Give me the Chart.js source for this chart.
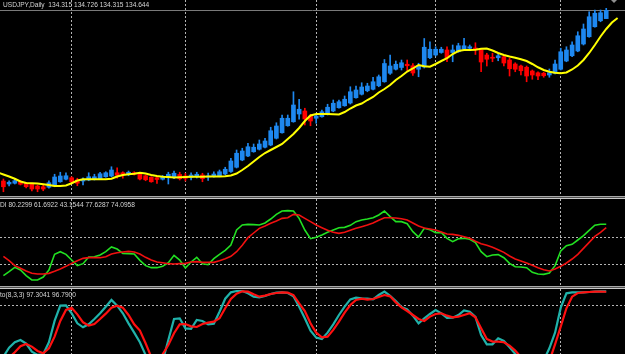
<!DOCTYPE html>
<html lang="en">
<head>
    <meta charset="UTF-8">
    <title>USDJPY Daily</title>
    <script src="https://cdn.jsdelivr.net/npm/chart.js"></script>
    <style>
        body { margin: 0; background: #000; width: 625px; height: 354px; overflow: hidden; position: relative; font-family: "Liberation Sans", Arial, sans-serif; }
        canvas { position: absolute; left: 0; }
        .sep { position: absolute; left: 0; width: 625px; height: 3px; background: linear-gradient(#a8a8a8 0 1px, #505050 1px 2px, #c8c8c8 2px 3px); }
        .lbl { position: absolute; left: 0; color: #d4d4d4; font-size: 6.6px; line-height: 8px; white-space: pre; }
        .shift { position: absolute; left: 611px; top: 0; width: 0; height: 0; border-left: 3px solid transparent; border-right: 3px solid transparent; border-top: 3px solid #909090; }
    </style>
</head>
<body>
    <canvas id="mainChart" width="625" height="196" style="top:0"></canvas>
    <div class="sep" style="top:196px"></div>
    <canvas id="diChart" width="625" height="87" style="top:199px"></canvas>
    <div class="sep" style="top:286px"></div>
    <canvas id="stochChart" width="625" height="65" style="top:289px"></canvas>
    <div class="shift"></div>

    <div class="lbl" style="top:1px;left:3px">USDJPY,Daily  134.315 134.726 134.315 134.644</div>
    <div class="lbl" style="top:201px">DI 80.2299 61.6922 43.1544 77.6287 74.0958</div>
    <div class="lbl" style="top:291px">to(8,3,3) 97.3041 96.7900</div>

    <script>
        // Daily candles, one entry per bar (oldest first)
        const candleOpen = [
            127.82, 127.70, 127.73, 127.79, 127.73, 127.69, 127.62, 127.59, 127.57, 127.62,
            127.79, 127.89, 127.95, 127.86, 127.82, 127.86, 127.90, 127.91, 127.99, 128.02,
            128.15, 128.15, 128.09, 128.15, 128.09, 128.03, 127.97, 127.95, 127.89, 127.95,
            127.95, 128.08, 128.02, 127.97, 127.99, 128.06, 127.98, 127.99, 128.03, 128.10,
            128.20, 128.37, 128.66, 128.82, 128.99, 129.09, 129.17, 129.26, 129.53, 129.75,
            130.03, 130.19, 130.50, 130.62, 130.42, 130.33, 130.39, 130.50, 130.62, 130.75,
            130.83, 130.94, 131.15, 131.29, 131.43, 131.49, 131.63, 131.79, 132.13, 132.29,
            132.36, 132.49, 132.43, 132.29, 132.38, 132.75, 132.86, 132.96, 133.06, 132.96,
            132.99, 133.09, 133.13, 133.14, 133.07, 132.86, 132.77, 132.75, 132.79, 132.66,
            132.50, 132.42, 132.37, 132.22, 132.15, 132.13, 132.06, 132.13, 132.29, 132.62,
            132.83, 133.02, 133.30, 133.59, 133.99, 134.23, 134.315
        ];
        const candleHigh = [
            127.90, 127.83, 127.90, 127.84, 127.77, 127.72, 127.66, 127.66, 127.83, 128.09,
            128.17, 128.15, 127.99, 127.93, 127.95, 128.15, 128.09, 128.17, 128.19, 128.39,
            128.35, 128.19, 128.22, 128.19, 128.13, 128.06, 127.99, 127.99, 128.04, 128.17,
            128.22, 128.17, 128.13, 128.15, 128.17, 128.13, 128.14, 128.19, 128.26, 128.37,
            128.73, 129.06, 129.13, 129.33, 129.30, 129.46, 129.53, 129.97, 130.15, 130.46,
            130.46, 131.39, 131.09, 130.73, 130.49, 130.50, 130.66, 130.89, 131.06, 131.06,
            131.22, 131.59, 131.62, 131.75, 131.73, 131.97, 132.06, 132.68, 132.86, 132.62,
            132.66, 132.66, 132.52, 132.53, 133.52, 133.39, 133.19, 133.17, 133.19, 133.26,
            133.33, 133.53, 133.26, 133.35, 133.11, 132.93, 132.93, 132.90, 132.83, 132.73,
            132.55, 132.46, 132.42, 132.26, 132.19, 132.17, 132.30, 132.66, 133.13, 133.19,
            133.39, 133.79, 134.10, 134.59, 134.66, 134.66, 134.726
        ];
        const candleLow = [
            127.39, 127.62, 127.70, 127.66, 127.54, 127.42, 127.39, 127.43, 127.53, 127.59,
            127.77, 127.86, 127.75, 127.63, 127.66, 127.83, 127.86, 127.89, 127.97, 127.99,
            127.93, 127.93, 128.03, 128.06, 127.86, 127.83, 127.77, 127.72, 127.86, 127.70,
            127.91, 127.86, 127.82, 127.86, 127.94, 127.79, 127.84, 127.97, 127.99, 128.07,
            128.16, 128.34, 128.63, 128.79, 128.97, 129.06, 129.14, 129.23, 129.50, 129.73,
            130.01, 130.17, 130.29, 130.06, 130.03, 130.13, 130.37, 130.46, 130.59, 130.73,
            130.81, 130.90, 131.13, 131.26, 131.39, 131.46, 131.59, 131.77, 132.08, 132.26,
            132.26, 132.24, 132.04, 131.99, 132.34, 132.71, 132.82, 132.93, 132.59, 132.59,
            132.97, 133.06, 133.09, 132.88, 132.19, 132.42, 132.59, 132.63, 132.42, 132.02,
            132.19, 132.06, 131.79, 131.89, 131.87, 131.97, 131.97, 132.10, 132.26, 132.59,
            132.79, 132.99, 133.26, 133.57, 133.97, 134.19, 134.315
        ];
        const candleClose = [
            127.59, 127.77, 127.83, 127.69, 127.59, 127.50, 127.50, 127.50, 127.75, 127.98,
            128.02, 128.03, 127.79, 127.73, 127.89, 127.99, 127.99, 128.11, 128.15, 128.26,
            128.05, 128.09, 128.17, 128.09, 127.90, 127.87, 127.79, 127.88, 127.99, 128.09,
            128.13, 127.91, 127.93, 128.06, 128.09, 127.91, 128.02, 128.10, 128.19, 128.29,
            128.62, 128.93, 129.02, 129.19, 129.17, 129.30, 129.42, 129.83, 130.02, 130.33,
            130.33, 130.86, 130.69, 130.30, 130.22, 130.42, 130.59, 130.77, 130.93, 130.99,
            131.09, 131.39, 131.46, 131.58, 131.62, 131.79, 131.99, 132.52, 132.42, 132.49,
            132.55, 132.43, 132.14, 132.42, 133.17, 133.09, 133.09, 133.09, 132.74, 133.06,
            133.23, 133.23, 133.19, 133.08, 132.58, 132.69, 132.73, 132.83, 132.54, 132.31,
            132.29, 132.23, 132.02, 132.06, 132.02, 132.03, 132.15, 132.50, 132.99, 133.06,
            133.26, 133.63, 133.90, 134.39, 134.53, 134.55, 134.644
        ];

        // Yellow moving average, drawn 2 bars shifted forward; first value sits at position -1
        const maStart = -1;
        const maValues = [
            128.16, 128.08, 128.00, 127.91, 127.80, 127.74, 127.73, 127.72, 127.69, 127.66,
            127.62, 127.62, 127.64, 127.73, 127.84, 127.89, 127.89, 127.89, 127.89, 127.89,
            127.91, 128.00, 128.06, 128.09, 128.11, 128.15, 128.12, 128.06, 128.02, 127.99,
            127.98, 127.96, 127.97, 127.98, 127.99, 127.99, 127.99, 128.00, 128.00, 128.00,
            128.01, 128.04, 128.12, 128.26, 128.42, 128.60, 128.78, 128.94, 129.06, 129.18,
            129.30, 129.50, 129.70, 129.94, 130.22, 130.44, 130.50, 130.50, 130.50, 130.49,
            130.48, 130.58, 130.72, 130.84, 130.92, 131.06, 131.18, 131.36, 131.50, 131.66,
            131.86, 132.02, 132.20, 132.32, 132.46, 132.41, 132.39, 132.50, 132.62, 132.73,
            132.90, 133.02, 133.06, 133.06, 133.07, 133.11, 133.12, 133.04, 132.94, 132.86,
            132.80, 132.75, 132.69, 132.62, 132.50, 132.37, 132.26, 132.19, 132.15, 132.13,
            132.16, 132.28, 132.44, 132.66, 132.94, 133.26, 133.60, 133.90, 134.16, 134.34
        ];

        // Middle pane: two DI lines
        const diGreen = [
            42.09, 45.05, 48.26, 46.28, 42.09, 38.87, 38.87, 41.10, 46.28, 57.89,
            59.87, 57.89, 53.69, 49.50, 50.98, 55.92, 56.16, 57.40, 59.87, 63.33,
            61.85, 58.63, 58.39, 58.14, 53.45, 49.50, 48.01, 48.01, 49.00, 51.72,
            57.15, 53.69, 47.77, 52.21, 55.67, 50.98, 50.24, 54.68, 57.89, 60.86,
            64.81, 75.92, 79.63, 80.12, 79.88, 79.63, 81.11, 84.08, 87.53, 90.00,
            90.25, 90.00, 84.57, 75.92, 69.50, 70.49, 72.22, 74.20, 75.92, 77.65,
            77.90, 79.38, 82.10, 83.33, 84.08, 85.06, 87.04, 90.00, 85.80, 82.10,
            82.10, 80.62, 74.69, 70.74, 77.16, 76.17, 73.95, 74.20, 69.75, 67.28,
            69.50, 69.75, 69.01, 66.54, 59.87, 56.16, 57.40, 57.65, 55.42, 51.22,
            48.75, 48.51, 48.01, 44.56, 43.32, 43.07, 44.06, 49.50, 60.36, 64.32,
            65.30, 68.51, 71.73, 75.68, 79.50, 80.23, 80.23
        ];
        const diRed = [
            56.41, 53.20, 49.50, 47.52, 45.54, 43.81, 43.32, 43.32, 43.81, 45.30,
            47.03, 49.00, 51.22, 53.20, 54.93, 55.42, 55.42, 55.42, 56.16, 58.14,
            59.13, 59.62, 60.12, 59.62, 58.14, 55.67, 53.69, 52.21, 51.72, 50.98,
            50.73, 50.98, 51.22, 52.21, 52.46, 51.97, 51.97, 51.97, 53.20, 54.68,
            56.41, 59.87, 64.56, 70.24, 73.70, 77.16, 78.89, 80.86, 82.59, 84.57,
            85.06, 87.53, 87.04, 84.57, 82.10, 79.63, 77.65, 75.68, 74.20, 73.45,
            74.20, 75.68, 77.16, 78.39, 79.63, 81.11, 83.09, 85.06, 85.06, 84.82,
            84.32, 83.33, 81.11, 78.89, 77.41, 76.67, 75.92, 74.44, 72.96, 72.71,
            71.97, 70.98, 69.75, 67.53, 65.80, 64.56, 63.08, 61.35, 59.38, 56.66,
            54.44, 52.95, 51.47, 49.74, 48.01, 46.53, 45.54, 47.03, 49.00, 51.47,
            54.44, 57.89, 62.34, 66.79, 71.23, 74.20, 77.63
        ];
        const diLevels = [70, 50];

        // Bottom pane: Stochastic(8,3,3)
        const stochMain = [
            20.4, 31.0, 37.3, 40.0, 35.7, 26.3, 22.4, 23.2, 37.3, 62.4,
            80.4, 80.8, 71.4, 59.6, 54.9, 58.4, 64.7, 71.4, 79.2, 87.1,
            80.4, 71.4, 59.6, 48.6, 37.3, 22.4, 12.0, 10.0, 15.0, 40.0,
            64.7, 65.5, 53.7, 53.0, 63.5, 62.4, 58.4, 59.2, 73.3, 88.6,
            96.1, 97.6, 97.6, 94.9, 91.0, 90.2, 91.8, 94.1, 95.7, 96.1,
            95.3, 91.4, 79.2, 65.5, 51.0, 42.8, 41.2, 48.6, 58.4, 69.4,
            79.2, 87.8, 89.8, 89.0, 88.6, 87.8, 92.9, 96.9, 91.8, 85.9,
            78.8, 76.1, 68.6, 59.6, 65.5, 70.6, 75.3, 71.4, 65.9, 66.3,
            69.4, 74.9, 73.3, 67.1, 45.9, 34.9, 34.9, 42.0, 38.8, 31.4,
            23.6, 15.0, 10.0, 6.0, 6.0, 16.0, 30.2, 48.6, 78.0, 94.9,
            96.1, 96.1, 96.1, 96.5, 96.9, 97.2, 97.3
        ];
        const stochSignal = [
            15.0, 19.2, 25.5, 32.6, 35.3, 32.2, 27.1, 24.3, 30.2, 43.9,
            62.4, 75.3, 78.0, 70.2, 60.8, 56.9, 58.8, 64.7, 71.0, 78.0,
            80.4, 78.0, 69.4, 58.4, 51.0, 36.1, 20.0, 12.0, 23.2, 34.1,
            47.9, 58.4, 58.8, 56.1, 55.3, 58.8, 60.4, 61.6, 65.5, 77.3,
            88.2, 94.5, 97.3, 96.9, 93.7, 91.0, 92.2, 94.1, 95.3, 96.1,
            95.7, 92.9, 83.1, 74.1, 59.6, 48.6, 43.2, 43.9, 51.8, 61.6,
            72.2, 81.2, 87.1, 88.6, 87.5, 88.2, 90.6, 92.9, 91.4, 84.3,
            78.4, 74.1, 69.4, 64.7, 62.4, 67.5, 70.6, 71.4, 68.6, 66.7,
            67.5, 69.4, 71.4, 66.7, 53.7, 41.2, 38.1, 38.1, 37.3, 33.4,
            27.5, 20.0, 14.0, 9.0, 6.0, 8.0, 15.0, 34.9, 55.7, 77.3,
            91.0, 95.3, 96.1, 96.5, 96.9, 96.8, 96.79
        ];
        const stochLevels = [80, 20];

        // bars where the vertical dotted grid falls
        const gridBars = [12, 32, 55, 76, 98];
        const lastClose = candleClose[candleClose.length - 1];

        const bullColor = "#1e88f0";
        const bearColor = "#ff0000";
        const gridColor = "rgba(200,200,200,0.9)";

        function xAxis() {
            return {
                type: "linear", min: -0.6, max: 109.3, offset: false,
                afterBuildTicks: s => { s.ticks = gridBars.map(v => ({ value: v })); },
                ticks: { display: false },
                grid: { color: gridColor, drawTicks: false, offset: false },
                border: { display: false, dash: [2, 2] }
            };
        }

        function yAxis(min, max, levels, color, dash) {
            return {
                min: min, max: max,
                afterBuildTicks: s => { s.ticks = levels.map(v => ({ value: v })); },
                ticks: { display: false },
                grid: { color: color, drawTicks: false },
                border: { display: false, dash: dash }
            };
        }

        const baseOptions = (scales) => ({
            responsive: false,
            animation: false,
            devicePixelRatio: 1,
            events: [],
            layout: { padding: 0 },
            plugins: { legend: { display: false }, tooltip: { enabled: false } },
            scales: scales
        });

        // Main price chart
        const bars = candleOpen.map((_, i) => i);
        const candleColors = bars.map(i => candleClose[i] >= candleOpen[i] ? bullColor : bearColor);

        new Chart(document.getElementById("mainChart"), {
            type: "bar",
            data: {
                datasets: [
                    {
                        type: "line", order: 0,
                        data: maValues.map((v, k) => ({ x: maStart + k, y: v })),
                        borderColor: "#ffff00", borderWidth: 2, pointRadius: 0, tension: 0
                    },
                    {
                        order: 1, grouped: false, barThickness: 4, minBarLength: 1,
                        data: bars.map(i => ({ x: i, y: [candleOpen[i], candleClose[i]] })),
                        backgroundColor: candleColors, borderWidth: 0
                    },
                    {
                        order: 2, grouped: false, barThickness: 1,
                        data: bars.map(i => ({ x: i, y: [candleLow[i], candleHigh[i]] })),
                        backgroundColor: candleColors, borderWidth: 0
                    }
                ]
            },
            options: baseOptions({
                x: xAxis(),
                y: yAxis(127.22, 135.06, [lastClose], "#7a7a7a", [])
            })
        });

        // DI pane
        new Chart(document.getElementById("diChart"), {
            type: "line",
            data: {
                datasets: [
                    { order: 0, data: bars.map(i => ({ x: i, y: diRed[i] })), borderColor: "#f01010", borderWidth: 1.6, pointRadius: 0 },
                    { order: 1, data: bars.map(i => ({ x: i, y: diGreen[i] })), borderColor: "#22e022", borderWidth: 1.6, pointRadius: 0 }
                ]
            },
            options: baseOptions({
                x: xAxis(),
                y: yAxis(34.43, 98.9, diLevels, gridColor, [2, 2])
            })
        });

        // Stochastic pane
        new Chart(document.getElementById("stochChart"), {
            type: "line",
            data: {
                datasets: [
                    { order: 0, data: bars.map(i => ({ x: i, y: stochSignal[i] })), borderColor: "#ff1010", borderWidth: 2.2, pointRadius: 0 },
                    { order: 1, data: bars.map(i => ({ x: i, y: stochMain[i] })), borderColor: "#20b2aa", borderWidth: 2.2, pointRadius: 0 }
                ]
            },
            options: baseOptions({
                x: xAxis(),
                y: yAxis(23.5, 100, stochLevels, gridColor, [2, 2])
            })
        });
    </script>
</body>
</html>
